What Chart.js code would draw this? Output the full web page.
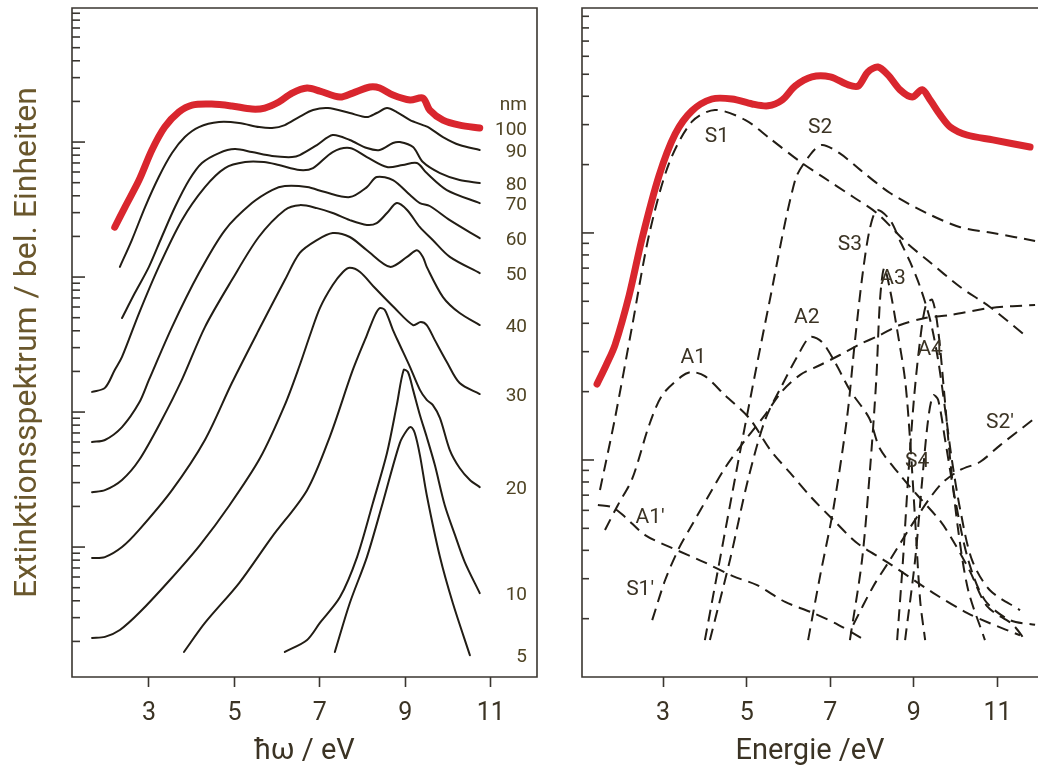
<!DOCTYPE html>
<html>
<head>
<meta charset="utf-8">
<script src="https://cdn.jsdelivr.net/npm/chart.js@4.4.1/dist/chart.umd.min.js"></script>
<style>
    body { margin: 0; background: #fff; width: 1038px; height: 769px; overflow: hidden; position: relative; }
    #izq { position: absolute; left: 0; top: 0; }
    #der { position: absolute; left: 545px; top: 0; }
</style>
</head>
<body>
<canvas id="izq" width="545" height="769"></canvas>
<canvas id="der" width="493" height="769"></canvas>
<script>
// Marcas del eje de energía.
const TICKS_X = [3, 5, 7, 9, 11];

// Panel izquierdo: energía (eV) y extinción para cada tamaño de partícula (nm).
const ETIQUETAS_NM = ['100', '90', '80', '70', '60', '50', '40', '30', '20', '10', '5'];
const E_100 = [2.20, 2.44, 2.77, 3.07, 3.37, 3.70, 4.01, 4.47, 4.94, 5.41, 5.71, 6.04, 6.35, 6.70, 7.00, 7.47, 7.77, 8.17, 8.40, 8.71, 9.11, 9.41, 9.57, 9.88, 10.27, 10.74];
const X_100 = [234, 330, 523, 873, 1291, 1668, 1880, 1911, 1850, 1756, 1786, 1979, 2306, 2512, 2387, 2154, 2306, 2555, 2512, 2230, 2048, 2118, 1726, 1455, 1336, 1270];
const E_90 = [2.32, 2.60, 2.91, 3.23, 3.54, 3.84, 4.17, 4.64, 5.11, 5.58, 5.88, 6.18, 6.51, 6.84, 7.19, 7.70, 8.10, 8.33, 8.57, 8.80, 9.11, 9.41, 9.57, 9.88, 10.27, 10.74];
const X_90 = [119, 188, 330, 551, 829, 1089, 1291, 1406, 1384, 1291, 1270, 1336, 1531, 1726, 1786, 1641, 1531, 1641, 1786, 1668, 1455, 1336, 1270, 1089, 950, 873];
const E_80 = [2.37, 2.67, 3.00, 3.30, 3.61, 3.94, 4.24, 4.64, 5.01, 5.41, 5.88, 6.35, 6.53, 6.93, 7.30, 7.70, 8.10, 8.40, 8.71, 8.87, 9.18, 9.41, 9.81, 10.27, 10.74];
const X_80 = [49.7, 76.1, 119, 198, 330, 523, 699, 829, 887, 843, 788, 774, 801, 950, 1127, 1035, 903, 873, 984, 1000, 918, 711, 589, 523, 497];
const E_70 = [1.67, 1.97, 2.20, 2.37, 2.77, 3.23, 3.77, 4.31, 4.78, 5.25, 5.69, 6.04, 6.53, 6.84, 7.30, 7.70, 8.10, 8.57, 8.94, 9.27, 9.50, 9.97, 10.74];
const X_70 = [14.1, 15.1, 20.5, 25.6, 54.1, 119, 264, 464, 642, 711, 711, 676, 621, 642, 843, 903, 774, 653, 676, 699, 589, 441, 353];
const E_60 = [1.67, 1.97, 2.37, 2.77, 3.00, 3.54, 4.17, 4.78, 5.41, 5.88, 6.18, 6.70, 7.12, 7.70, 8.10, 8.33, 8.71, 9.11, 9.34, 9.57, 10.04, 10.74];
const X_60 = [6.00, 6.21, 7.74, 11.7, 17.3, 42.6, 107, 223, 353, 441, 472, 464, 426, 391, 464, 551, 523, 405, 353, 336, 264, 194];
const E_50 = [1.67, 1.97, 2.37, 2.77, 3.30, 3.77, 4.31, 4.94, 5.57, 6.18, 6.53, 6.93, 7.30, 7.70, 8.10, 8.33, 8.57, 8.80, 9.04, 9.34, 9.64, 10.04, 10.74];
const X_50 = [2.55, 2.64, 3.14, 4.41, 8.73, 17.3, 42.6, 95.0, 198, 314, 341, 324, 298, 264, 243, 251, 298, 353, 314, 234, 188, 141, 107];
const E_40 = [1.67, 1.97, 2.37, 2.77, 3.54, 4.31, 4.94, 5.57, 6.18, 6.53, 6.93, 7.30, 7.70, 8.10, 8.64, 9.04, 9.27, 9.41, 9.50, 9.88, 10.27, 10.74];
const X_40 = [0.829, 0.843, 1.0, 1.34, 2.64, 6.21, 16.4, 40.5, 95.0, 151, 188, 212, 198, 158, 119, 141, 158, 141, 119, 71.1, 54.1, 44.1];
const E_30 = [1.67, 1.97, 2.32, 2.79, 3.49, 4.19, 4.89, 5.60, 6.18, 6.53, 6.77, 7.00, 7.30, 7.54, 7.70, 7.94, 8.29, 8.75, 9.18, 9.36, 9.50, 9.69, 9.97, 10.27, 10.74];
const X_30 = [0.212, 0.216, 0.243, 0.330, 0.570, 1.03, 2.05, 4.56, 11.3, 22.3, 37.2, 58.9, 87.3, 109, 117, 109, 82.9, 58.9, 44.1, 46.4, 44.1, 34.1, 23.5, 16.4, 13.6];
const E_20 = [3.82, 4.31, 5.11, 5.88, 6.70, 7.23, 7.77, 8.10, 8.29, 8.40, 8.52, 8.71, 8.87, 9.11, 9.34, 9.50, 9.64, 9.81, 10.04, 10.27, 10.51, 10.74];
const X_20 = [0.167, 0.274, 0.541, 1.19, 2.64, 6.53, 20.5, 37.2, 52.3, 58.9, 57.0, 40.5, 31.4, 21.5, 14.6, 12.3, 11.3, 9.03, 5.23, 3.85, 3.14, 2.78];
const E_10 = [6.18, 6.70, 7.00, 7.47, 7.87, 8.24, 8.57, 8.80, 8.96, 9.06, 9.18, 9.34, 9.50, 9.69, 9.92, 10.16, 10.39, 10.74];
const X_10 = [0.167, 0.205, 0.274, 0.426, 0.843, 2.12, 4.97, 11.3, 20.5, 19.8, 14.6, 9.51, 6.53, 4.05, 2.05, 1.23, 0.774, 0.456];
const E_5 = [7.35, 7.70, 8.10, 8.47, 8.87, 9.04, 9.13, 9.22, 9.34, 9.50, 9.81, 10.11, 10.51];
const X_5 = [0.167, 0.385, 0.843, 2.12, 5.89, 7.36, 7.74, 6.99, 4.80, 2.43, 0.843, 0.385, 0.158];

// Panel derecho: espectro medido y sus componentes (energía en eV, extinción).
const E_MEDIDO = [1.42, 1.64, 1.85, 2.19, 2.50, 2.90, 3.29, 3.69, 4.17, 4.65, 5.13, 5.51, 5.85, 6.16, 6.56, 7.00, 7.43, 7.67, 7.90, 8.14, 8.38, 8.67, 8.96, 9.20, 9.39, 9.63, 9.87, 10.27, 10.89, 11.78];
const X_MEDIDO = [21.6, 26.2, 32.1, 53.3, 95.0, 178, 273, 345, 389, 389, 370, 363, 385, 444, 487, 487, 449, 444, 512, 538, 497, 427, 397, 427, 385, 331, 293, 270, 257, 239];
const E_S1 = [1.49, 1.85, 2.26, 2.67, 3.14, 3.69, 4.24, 4.96, 5.54, 6.28, 6.83, 7.55, 8.12, 8.84, 9.32, 10.11, 10.82, 11.71];
const X_S1 = [7.38, 15.3, 38.9, 99, 202, 309, 348, 315, 262, 206, 176, 144, 122, 90, 76, 57.8, 47.2, 34.8];
const E_S2 = [4.00, 4.89, 5.54, 6.16, 6.52, 6.80, 7.23, 7.71, 8.43, 9.32, 10.11, 10.89, 11.90];
const X_S2 = [1.61, 12.1, 49.2, 171, 221, 244, 224, 190, 150, 122, 106, 100, 92.2];
const E_S3 = [6.47, 6.76, 7.07, 7.40, 7.59, 7.78, 7.95, 8.12, 8.43, 8.67, 8.91, 9.15, 9.39, 9.58, 9.75, 9.91, 10.11, 10.39, 10.82, 11.54];
const X_S3 = [1.61, 3.11, 6.03, 15.3, 33.4, 67.3, 105, 126, 114, 92.2, 74.5, 57.8, 41.4, 27.6, 16.6, 10, 6.03, 3.63, 2.67, 2.18];
const E_A3 = [7.47, 7.76, 7.95, 8.10, 8.19, 8.29, 8.43, 8.60, 8.79, 8.91, 9.03, 9.15, 9.27];
const X_A3 = [1.61, 3.63, 9.04, 22.5, 50.7, 70.1, 56.1, 37.4, 22.5, 12.2, 5.45, 2.41, 1.61];
const E_A4 = [8.60, 8.74, 8.86, 9.00, 9.15, 9.29, 9.44, 9.58, 9.72, 9.87, 10.06, 10.30, 10.70];
const X_A4 = [1.61, 3.63, 8.17, 18.4, 33.8, 48.2, 50.7, 37.4, 20.3, 10, 4.92, 2.67, 1.61];
const E_S4 = [8.79, 9.03, 9.20, 9.34, 9.46, 9.58, 9.75, 9.99, 10.30, 10.70, 11.30, 11.90];
const X_S4 = [1.61, 3.63, 8.17, 15.0, 19.3, 18.4, 12.2, 6.67, 3.63, 2.41, 1.97, 1.88];
const E_A2 = [4.12, 4.60, 5.03, 5.44, 5.85, 6.23, 6.52, 6.80, 7.11, 7.47, 7.93, 8.19, 8.67, 9.08, 9.63, 9.94, 10.34, 10.75, 11.37, 11.66];
const X_A2 = [1.61, 3.63, 8.17, 15.0, 21.4, 29.0, 34.8, 33.1, 27.0, 20.3, 15.3, 11.2, 8.59, 7.01, 5.39, 4.40, 3.24, 2.27, 1.88, 1.61];
const E_S1P = [2.74, 3.05, 3.38, 3.69, 4.10, 4.48, 4.96, 5.44, 5.85, 6.28, 6.76, 7.23, 7.67, 8.19, 8.67, 9.27, 9.87, 10.82, 11.90];
const X_S1P = [1.97, 2.96, 4.09, 5.17, 7.01, 9.22, 12.2, 15.8, 20.1, 23.7, 26.2, 29.0, 32.1, 35.5, 39.3, 42.2, 43.5, 46.7, 48.2];
const E_A1 = [1.61, 1.92, 2.26, 2.67, 2.98, 3.45, 3.69, 4.00, 4.48, 5.06, 5.56, 6.04, 6.56, 7.07, 7.64, 8.36, 9.46, 10.27, 10.82, 11.54];
const X_A1 = [4.92, 6.34, 8.25, 14.3, 19.3, 23.4, 24.4, 23.4, 19.3, 15.3, 11.1, 8.77, 6.80, 5.45, 4.31, 3.55, 2.60, 2.12, 1.91, 1.69];
const E_A1P = [1.44, 1.78, 2.09, 2.57, 3.22, 3.98, 4.67, 5.25, 5.92, 6.59, 7.19, 7.83];
const X_A1P = [6.33, 6.20, 5.61, 4.67, 4.09, 3.55, 3.08, 2.81, 2.37, 2.12, 1.88, 1.61];
const E_S2P = [7.55, 8.02, 8.43, 9.03, 9.63, 10.11, 10.58, 11.06, 11.90];
const X_S2P = [1.88, 2.76, 3.63, 5.45, 7.76, 9.04, 9.80, 11.6, 15.3];

// Nombres de las componentes y dónde se rotulan (eV, extinción).
const COMPONENTES = ['S1', 'S2', 'S3', 'A3', 'A2', 'A4', 'A1', "S2'", 'S4', "A1'", "S1'"];
const COMP_E = [4.29, 6.76, 7.47, 8.50, 6.44, 9.39, 3.72, 11.06, 9.08, 2.69, 2.45];
const COMP_X = [265, 290, 88.5, 62.7, 42.2, 30.5, 28.1, 14.6, 9.8, 5.55, 2.67];

// Colores
const ROJO = '#d9262e';
const NEGRO = '#221d15';
const EJE = '#3a3630';
const TEXTO = '#3b3324';
const TITULO_Y = '#6a572c';
const TEXTO_NM = '#4f4424';

Chart.defaults.font.family = 'Roboto';

// Convierte dos arreglos en puntos {x, y}.
const puntos = (xs, ys) => xs.map((v, i) => ({ x: v, y: ys[i] }));

// Serie de línea continua.
const serie = (xs, ys, color, ancho) => ({
    data: puntos(xs, ys),
    showLine: true,
    borderColor: color,
    borderWidth: ancho,
    borderCapStyle: 'round',
    borderJoinStyle: 'round',
    pointRadius: 0,
    tension: 0.3
});

// Serie discontinua para las componentes.
const serieDiscontinua = (xs, ys) => ({ ...serie(xs, ys, NEGRO, 2), borderDash: [12, 7], borderCapStyle: 'butt' });

// Plugin que dibuja el marco y las marcas logarítmicas hacia dentro.
const marco = {
    id: 'marco',
    afterDraw(chart, args, opts) {
        const ctx = chart.ctx, a = chart.chartArea, y = chart.scales.y;
        ctx.save();
        ctx.strokeStyle = EJE;
        ctx.lineWidth = 1.6;
        ctx.beginPath();
        if (opts.cerrado) {
            ctx.rect(a.left, a.top, a.right - a.left, a.bottom - a.top);
        } else {
            ctx.moveTo(chart.width, a.top);
            ctx.lineTo(a.left, a.top);
            ctx.lineTo(a.left, a.bottom);
            ctx.lineTo(chart.width, a.bottom);
        }
        ctx.stroke();
        const k0 = Math.floor(Math.log10(y.min)), k1 = Math.ceil(Math.log10(y.max));
        for (let k = k0; k <= k1; k++) {
            for (let m = 1; m <= 9; m++) {
                const v = m * Math.pow(10, k);
                if (v < y.min || v > y.max) continue;
                const py = y.getPixelForValue(v);
                ctx.beginPath();
                ctx.moveTo(a.left, py);
                ctx.lineTo(a.left + (m === 1 ? opts.mayor : opts.menor), py);
                ctx.stroke();
            }
        }
        ctx.restore();
    }
};

// Plugin que escribe el tamaño en nm al final de cada curva.
const rotulosNm = {
    id: 'rotulosNm',
    afterDatasetsDraw(chart) {
        const ctx = chart.ctx, a = chart.chartArea;
        ctx.save();
        ctx.font = '19px Roboto';
        ctx.fillStyle = TEXTO_NM;
        ctx.textAlign = 'right';
        ctx.textBaseline = 'middle';
        chart.data.datasets.forEach((ds, i) => {
            const pts = chart.getDatasetMeta(i).data;
            const py = pts[pts.length - 1].y + 2;
            ctx.fillText(ETIQUETAS_NM[i], a.right - 10, py);
            if (i === 0) ctx.fillText('nm', a.right - 10, py - 25);
        });
        ctx.restore();
    }
};

// Plugin que rotula las componentes del panel derecho.
const rotulosComp = {
    id: 'rotulosComp',
    afterDatasetsDraw(chart) {
        const ctx = chart.ctx, sx = chart.scales.x, sy = chart.scales.y;
        ctx.save();
        ctx.font = '21px Roboto';
        ctx.fillStyle = TEXTO;
        ctx.textAlign = 'center';
        ctx.textBaseline = 'middle';
        COMPONENTES.forEach((t, i) => {
            ctx.fillText(t, sx.getPixelForValue(COMP_E[i]), sy.getPixelForValue(COMP_X[i]));
        });
        ctx.restore();
    }
};

// Eje de energía común a ambos paneles.
const ejeX = (min, max, titulo) => ({
    type: 'linear',
    min: min,
    max: max,
    afterBuildTicks: s => { s.ticks = TICKS_X.map(v => ({ value: v })); },
    afterFit: s => { s.height = 92; },
    ticks: { color: TEXTO, font: { size: 25 }, padding: 12 },
    grid: { drawOnChartArea: false, tickLength: 10, tickColor: EJE, tickWidth: 1.6 },
    border: { display: false },
    title: { display: true, text: titulo, color: TEXTO, font: { size: 29 }, padding: { top: 0, bottom: 0 } }
});

// Gráfico izquierdo: espectros por tamaño de partícula.
const graficoTamanos = () => {
    const datasets = [
        serie(E_100, X_100, ROJO, 7),
        serie(E_90, X_90, NEGRO, 2),
        serie(E_80, X_80, NEGRO, 2),
        serie(E_70, X_70, NEGRO, 2),
        serie(E_60, X_60, NEGRO, 2),
        serie(E_50, X_50, NEGRO, 2),
        serie(E_40, X_40, NEGRO, 2),
        serie(E_30, X_30, NEGRO, 2),
        serie(E_20, X_20, NEGRO, 2),
        serie(E_10, X_10, NEGRO, 2),
        serie(E_5, X_5, NEGRO, 2)
    ];
    new Chart(document.getElementById('izq'), {
        type: 'scatter',
        data: { datasets: datasets },
        options: {
            responsive: false,
            animation: false,
            devicePixelRatio: 1,
            layout: { padding: { left: 0, right: 8, top: 8, bottom: 0 } },
            plugins: {
                legend: { display: false },
                tooltip: { enabled: false },
                marco: { cerrado: true, mayor: 13, menor: 8 }
            },
            scales: {
                x: ejeX(1.2, 12.08, 'ħω / eV'),
                y: {
                    type: 'logarithmic',
                    min: 0.109,
                    max: 9840,
                    ticks: { display: false },
                    grid: { display: false },
                    border: { display: false },
                    afterFit: s => { s.width = 72; },
                    title: {
                        display: true,
                        text: 'Extinktionsspektrum / bel. Einheiten',
                        color: TITULO_Y,
                        font: { size: 32 },
                        padding: { top: 9, bottom: 0 }
                    }
                }
            }
        },
        plugins: [marco, rotulosNm]
    });
};

// Gráfico derecho: espectro medido y su descomposición.
const graficoComponentes = () => {
    const datasets = [
        serie(E_MEDIDO, X_MEDIDO, ROJO, 7),
        serieDiscontinua(E_S1, X_S1),
        serieDiscontinua(E_S2, X_S2),
        serieDiscontinua(E_S3, X_S3),
        serieDiscontinua(E_A3, X_A3),
        serieDiscontinua(E_A4, X_A4),
        serieDiscontinua(E_S4, X_S4),
        serieDiscontinua(E_A2, X_A2),
        serieDiscontinua(E_S1P, X_S1P),
        serieDiscontinua(E_A1, X_A1),
        serieDiscontinua(E_A1P, X_A1P),
        serieDiscontinua(E_S2P, X_S2P)
    ];
    new Chart(document.getElementById('der'), {
        type: 'scatter',
        data: { datasets: datasets },
        options: {
            responsive: false,
            animation: false,
            devicePixelRatio: 1,
            layout: { padding: { left: 0, right: 0, top: 8, bottom: 0 } },
            plugins: {
                legend: { display: false },
                tooltip: { enabled: false },
                marco: { cerrado: false, mayor: 12, menor: 7 }
            },
            scales: {
                x: ejeX(1.06, 11.97, 'Energie /eV'),
                y: {
                    type: 'logarithmic',
                    min: 1.107,
                    max: 979,
                    ticks: { display: false },
                    grid: { display: false },
                    border: { display: false },
                    afterFit: s => { s.width = 37; }
                }
            }
        },
        plugins: [marco, rotulosComp]
    });
};

graficoTamanos();
graficoComponentes();
</script>
</body>
</html>
